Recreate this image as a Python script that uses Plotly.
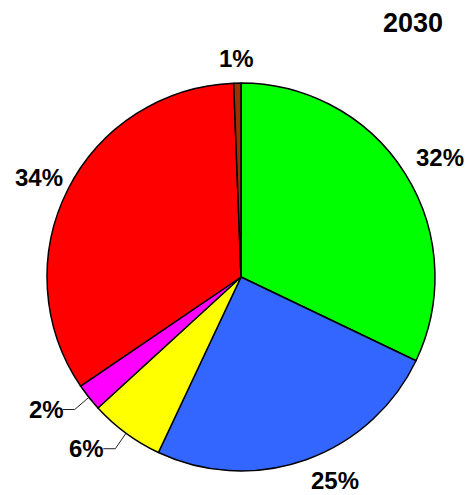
import math
import plotly.graph_objects as go

categories = ["A", "B", "C", "D", "E", "F"]
values = [32.1, 24.9, 6.2, 2.3, 33.9, 0.6]
colors = ["#00FF00", "#3366FF", "#FFFF00", "#FF00FF", "#FF0000", "#993300"]
title_text = "2030"
# labels that get an elbow leader line (small slices on lower left)
leader = [False, False, True, True, False, False]
# radial gap (px) between pie edge and label corner
label_gap = [13, 13, 0, 0, 6, 16]

W, H = 465, 495
cx, cy, r = 241, 277, 194
FS = 24
FONT = "Liberation Sans, Arial"

fig = go.Figure(go.Pie(
    labels=categories,
    values=values,
    sort=False,
    direction="clockwise",
    rotation=0,
    marker=dict(colors=colors, line=dict(color="black", width=1.5)),
    textinfo="none",
    showlegend=False,
    hoverinfo="none",
    domain=dict(x=[(cx - r) / W, (cx + r) / W], y=[1 - (cy + r) / H, 1 - (cy - r) / H]),
))

def px(x):
    return x / W

def py(y):
    return 1 - y / H

total = sum(values)
cum = 0.0
for v, lead, gap in zip(values, leader, label_gap):
    mid = (cum + v / 2) / total
    cum += v
    th = 2 * math.pi * mid
    sx, sy = math.sin(th), -math.cos(th)  # screen direction (y down)
    txt = f"{round(v / total * 100):d}%"
    ndig = len(txt) - 1
    w = ndig * 0.556 * FS + 0.889 * FS
    h = 18
    if lead:
        ex, ey = cx + r * sx, cy + r * sy
        L = 18
        bx, by = ex + L * sx, ey + L * sy + 1
        hx = bx - 12
        fig.add_shape(type="path", xref="paper", yref="paper",
                      path=f"M {px(ex)} {py(ey)} L {px(bx)} {py(by)} L {px(hx)} {py(by)}",
                      line=dict(color="#222222", width=1))
        tx, ty = hx - w / 2 + 1, by
    else:
        R = r + gap
        ptx, pty = cx + R * sx, cy + R * sy
        if abs(sx) < 0.3:
            ox = sx * w / 2
        else:
            ox = math.copysign(w / 2, sx)
        oy = math.copysign(h / 2, sy)
        tx, ty = ptx + ox, pty + oy
    fig.add_annotation(
        text=f"<b>{txt}</b>", x=px(tx), y=py(ty), xref="paper", yref="paper",
        xanchor="center", yanchor="middle", showarrow=False,
        font=dict(family=FONT, size=FS, color="black"),
    )

fig.add_annotation(
    text="<b>" + title_text + "</b>", x=px(413), y=py(23), xref="paper", yref="paper",
    xanchor="center", yanchor="middle",
    showarrow=False, font=dict(family=FONT, size=27, color="black"),
)

fig.update_layout(
    width=W, height=H,
    margin=dict(l=0, r=0, t=0, b=0),
    paper_bgcolor="white", plot_bgcolor="white",
)

fig.write_html("out.html")
